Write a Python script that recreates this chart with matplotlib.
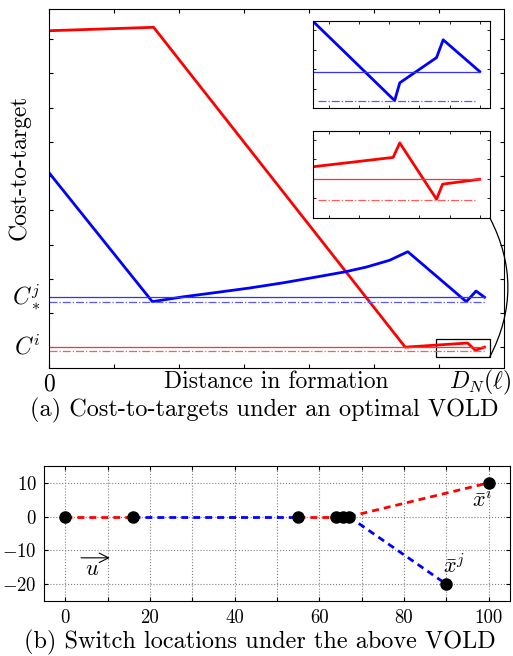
import matplotlib
matplotlib.use("Agg")
import matplotlib.pyplot as plt
from matplotlib.patches import Rectangle, ConnectionPatch

plt.rcParams['font.family'] = 'cmr10'
plt.rcParams['mathtext.fontset'] = 'cm'
plt.rcParams['axes.formatter.use_mathtext'] = True
plt.rcParams['font.size'] = 17

# --- (a) cost-to-target curves ---
red_x = [0.0, 1.61, 5.48, 6.44, 6.56, 6.70]
red_y = [9.25, 9.35, 0.0, 0.12, -0.09, 0.0]
blue_x = [0.0, 1.59, 2.06, 2.58, 3.09, 3.60, 4.11, 4.55, 4.88, 5.24, 5.52,
          6.42, 6.57, 6.70]
blue_y = [5.10, 1.33, 1.47, 1.60, 1.73, 1.88, 2.05, 2.20, 2.34, 2.54, 2.79,
          1.33, 1.64, 1.46]
c_i, c_i_low = 0.0, -0.12
c_j, c_j_low = 1.47, 1.33
x_end = 6.70

# insets (zoomed ends)
ins_blue_x = [0.47, 3.18, 3.35, 4.57, 4.79, 6.0]
ins_blue_y = [4.45, 0.39, 1.30, 2.59, 3.50, 1.88]
ins_blue_lvl, ins_blue_low = 1.86, 0.39
ins_red_x = [0.47, 3.13, 3.35, 4.57, 4.77, 6.0]
ins_red_y = [2.62, 3.10, 3.84, 0.96, 1.73, 1.98]
ins_red_lvl, ins_red_low = 2.0, 0.93

# --- (b) switch locations ---
pts_x = [0, 16, 55, 64, 65.5, 67, 100, 90]
pts_y = [0, 0, 0, 0, 0, 0, 10, -20]
red_segs = [([0, 16], [0, 0]), ([55, 67], [0, 0]), ([67, 100], [0, 10])]
blue_segs = [([16, 55], [0, 0]), ([67, 90], [0, -20])]

fig = plt.figure(figsize=(5.13, 6.56), dpi=100)

ax = fig.add_axes([0.0955, 0.439, 0.887, 0.547])
ax.plot(red_x, red_y, color='red', lw=2)
ax.plot(blue_x, blue_y, color='blue', lw=2)
ax.plot([0, x_end], [c_j, c_j], color='#3030ff', lw=0.9)
ax.plot([0, x_end], [c_j_low, c_j_low], color='#5a5aff', lw=0.9, ls='-.')
ax.plot([0, x_end], [c_i, c_i], color='#ff3030', lw=0.9)
ax.plot([0, x_end], [c_i_low, c_i_low], color='#ff5a5a', lw=0.9, ls='-.')
ax.set_xlim(0, 7)
ax.set_ylim(-0.61, 9.88)
ax.set_xticks(range(7))
ax.set_xticklabels(['0', '', '', '', '', '', ''])
ax.set_yticks(range(10))
ax.set_yticklabels([])
ax.tick_params(direction='in', top=True, right=True, length=3, width=0.8)
ax.text(6.63, -1.03, r'$D_N(\ell)$', ha='center', va='center')
ax.text(-0.13, c_j, r'$C_*^j$', ha='right', va='center')
ax.text(-0.13, c_i, r'$C^i$', ha='right', va='center')
ax.set_xlabel('Distance in formation')
ax.xaxis.set_label_coords(0.5, -0.04)
ax.xaxis.label.set_va('center')
fig.text(0.037, 0.745, 'Cost-to-target', rotation=90, ha='center', va='center')
fig.text(0.515, 0.375, '(a) Cost-to-targets under an optimal VOLD',
         ha='center', va='center', fontsize=17.5)

box = Rectangle((5.96, -0.29), 0.82, 0.52, fill=False, lw=0.9, ec='black')
ax.add_patch(box)

in1 = fig.add_axes([0.610, 0.835, 0.345, 0.1326])
in1.plot(ins_blue_x, ins_blue_y, color='blue', lw=2)
in1.plot([0.47, 6.0], [ins_blue_lvl, ins_blue_lvl], color='#3030ff', lw=0.9)
in1.plot([0.63, 5.9], [ins_blue_low, ins_blue_low], color='#5a5aff', lw=0.9, ls='-.')

in2 = fig.add_axes([0.610, 0.6677, 0.345, 0.1326])
in2.plot(ins_red_x, ins_red_y, color='red', lw=2)
in2.plot([0.47, 6.0], [ins_red_lvl, ins_red_lvl], color='#ff3030', lw=0.9)
in2.plot([0.63, 5.9], [ins_red_low, ins_red_low], color='#ff5a5a', lw=0.9, ls='-.')

for a in (in1, in2):
    a.set_xlim(0.47, 6.34)
    a.set_ylim(0, 4.45)
    a.set_xticks(range(1, 7))
    a.set_yticks(range(1, 5))
    a.set_xticklabels([])
    a.set_yticklabels([])
    a.tick_params(direction='in', top=True, right=True, length=2.5, width=0.6)

con = ConnectionPatch(xyA=(6.78, -0.29), coordsA=ax.transData,
                      xyB=(6.34, 0), coordsB=in2.transData,
                      connectionstyle='arc3,rad=0.26', lw=0.9, color='black')
con.set_clip_on(False)
fig.add_artist(con)

# --- (b) ---
bx = fig.add_axes([0.0858, 0.0838, 0.908, 0.2058])
for xs, ys in red_segs:
    bx.plot(xs, ys, color='red', lw=2, ls=(0, (2.5, 1.8)))
for xs, ys in blue_segs:
    bx.plot(xs, ys, color='blue', lw=2, ls=(0, (2.5, 1.8)))
bx.plot(pts_x, pts_y, 'o', color='black', ms=8, zorder=5)
bx.set_xlim(-5, 105)
bx.set_ylim(-25, 15)
bx.set_xticks(range(0, 101, 10))
bx.set_xticklabels([str(v) if v % 20 == 0 else '' for v in range(0, 101, 10)])
bx.set_yticks([-20, -10, 0, 10])
bx.grid(True, ls=':', color='gray', lw=0.8)
bx.tick_params(direction='in', top=True, right=True, length=3, width=0.8,
               labelsize=13.5)
bx.tick_params(axis='x', pad=6)
bx.tick_params(axis='y', pad=5)
bx.annotate('', xy=(11.2, -12.2), xytext=(3.1, -12.2),
            arrowprops=dict(arrowstyle='->', lw=0.8, color='black'))
bx.text(6.4, -15.5, r'$u$', ha='center', va='center', fontsize=16)
bx.text(98.5, 5.2, r'$\bar{x}^i$', ha='center', va='center', fontsize=16)
bx.text(91.8, -14.4, r'$\bar{x}^j$', ha='center', va='center', fontsize=16)
fig.text(0.507, 0.02, '(b) Switch locations under the above VOLD',
         ha='center', va='center', fontsize=17.5)

fig.savefig('out.png', dpi=100)
